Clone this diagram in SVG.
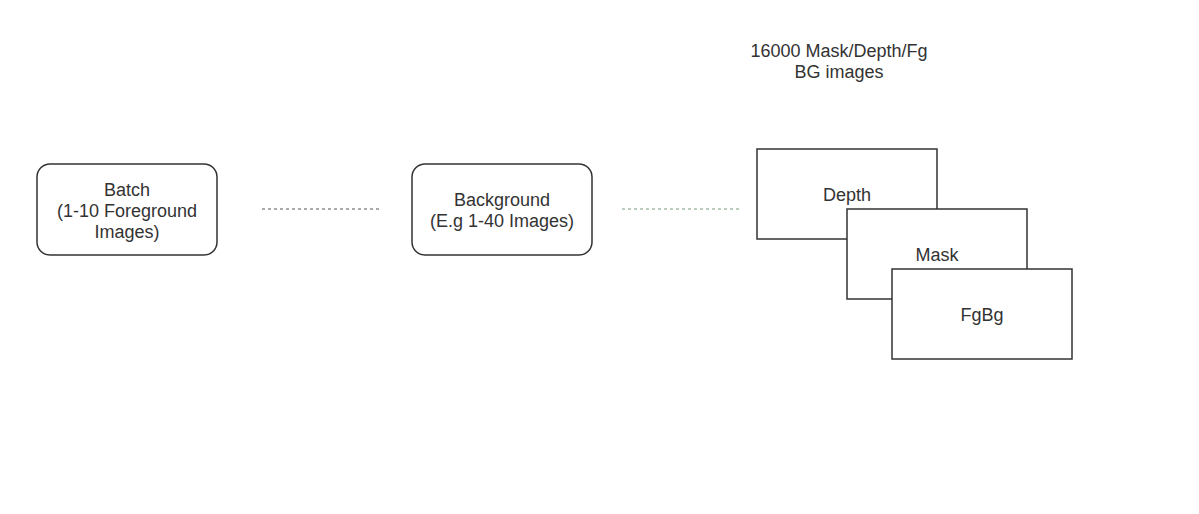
<svg xmlns="http://www.w3.org/2000/svg" width="1199" height="514" viewBox="0 0 1199 514">
<style>
.box{fill:#fff;stroke:#333;stroke-width:1.5}
.t{font-family:"Liberation Sans",Arial,sans-serif;font-size:18px;fill:#333;text-anchor:middle}
.c{stroke:#555;stroke-width:1;stroke-dasharray:3 3;fill:none}
.c2{stroke:#7a9a7a}
</style>
<rect width="1199" height="514" fill="#fff"/>
<g id="connectors">
<line class="c" x1="262" y1="209" x2="382" y2="209"/>
<line class="c c2" x1="622" y1="209" x2="742" y2="209"/>
</g>
<g id="batch">
<rect class="box" x="37" y="164" width="180" height="91" rx="13"/>
<text class="t" x="127" y="195.5">Batch</text>
<text class="t" x="127" y="216.5">(1-10 Foreground</text>
<text class="t" x="127" y="237.5">Images)</text>
</g>
<g id="background">
<rect class="box" x="412" y="164" width="180" height="91" rx="13"/>
<text class="t" x="502" y="205.5">Background</text>
<text class="t" x="502" y="226.5">(E.g 1-40 Images)</text>
</g>
<g id="title">
<text class="t" x="839" y="56.5">16000 Mask/Depth/Fg</text>
<text class="t" x="839" y="77.5">BG images</text>
</g>
<g id="depth">
<rect class="box" x="757" y="149" width="180" height="90"/>
<text class="t" x="847" y="201">Depth</text>
</g>
<g id="mask">
<rect class="box" x="847" y="209" width="180" height="90"/>
<text class="t" x="937" y="261">Mask</text>
</g>
<g id="fgbg">
<rect class="box" x="892" y="269" width="180" height="90"/>
<text class="t" x="982" y="321">FgBg</text>
</g>
</svg>
